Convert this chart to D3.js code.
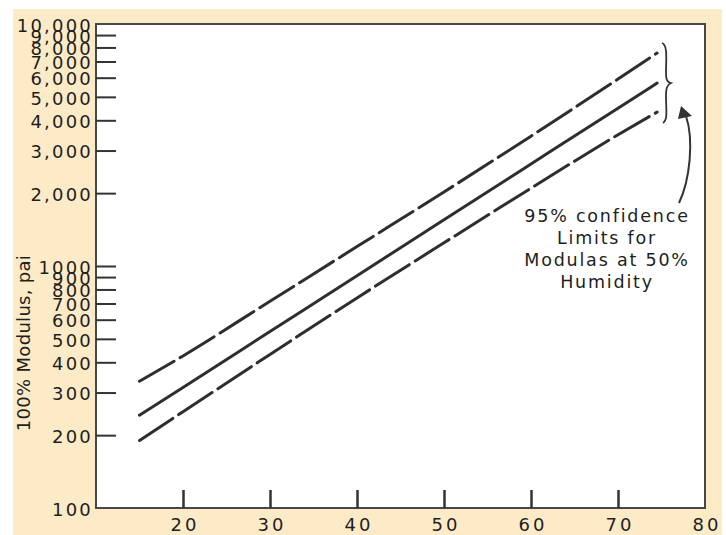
<!DOCTYPE html>
<html>
<head>
<meta charset="utf-8">
<script src="https://cdn.jsdelivr.net/npm/d3@7"></script>
<style>
  body { margin: 0; background: #fff; }
  svg { display: block; }
  text { font-family: "DejaVu Sans", Verdana, sans-serif; fill: #1e1e1e; }
</style>
</head>
<body>
<svg id="chart" width="726" height="535"></svg>
<script>
// values
const xValues = [15, 20, 30, 40, 50, 60, 70, 74.5];
const modulusFit = [242, 315, 536, 912, 1552, 2640, 4490, 5700];
const upperLimit = [334, 425, 715, 1203, 2023, 3440, 5920, 7590];
const lowerLimit = [190, 250, 431, 738, 1247, 2097, 3485, 4325];

const xTicks = [20, 30, 40, 50, 60, 70, 80];
const yTicks = [100, 200, 300, 400, 500, 600, 700, 800, 900, 1000,
  2000, 3000, 4000, 5000, 6000, 7000, 8000, 9000, 10000];
const yTitle = "100% Modulus, pai";
const noteLines = ["95% confidence", "Limits for", "Modulas at 50%", "Humidity"];

const svg = d3.select("#chart");
const ink = "#333";

const x = d3.scaleLinear().domain([10, 80]).range([96, 705]);
const y = d3.scaleLog().domain([100, 10000]).range([508, 24]);

// cream page + white plot
svg.append("rect")
  .attr("x", 13).attr("y", 9).attr("width", 709).attr("height", 526)
  .attr("fill", "#fdebc8");
svg.append("rect")
  .attr("x", x(10)).attr("y", y(10000))
  .attr("width", x(80) - x(10)).attr("height", y(100) - y(10000))
  .attr("fill", "#fff").attr("stroke", "#474747").attr("stroke-width", 2);

const fmt = (v) => (v <= 1000 ? String(v) : d3.format(",")(v));

const yAxis = svg.append("g")
  .attr("transform", `translate(${x(10)},0)`)
  .call(d3.axisLeft(y).tickValues(yTicks).tickFormat(fmt)
    .tickSizeInner(-20).tickSizeOuter(0).tickPadding(3));
yAxis.select(".domain").remove();
yAxis.selectAll(".tick line")
  .attr("stroke", ink).attr("stroke-width", 2)
  .filter((d) => d === 100 || d === 10000).remove();
yAxis.selectAll(".tick text")
  .style("font-size", "18px")
  .style("letter-spacing", "2.2px")
  .attr("dy", "0.4em");

const xAxis = svg.append("g")
  .attr("transform", `translate(0,${y(100)})`)
  .call(d3.axisBottom(x).tickValues(xTicks)
    .tickSizeInner(-18).tickSizeOuter(0).tickPadding(10));
xAxis.select(".domain").remove();
xAxis.selectAll(".tick line")
  .attr("stroke", ink).attr("stroke-width", 2.5)
  .filter((d) => d === 80).remove();
xAxis.selectAll(".tick text")
  .style("font-size", "18px")
  .style("letter-spacing", "3px")
  .attr("dx", "1.5px");

svg.append("text")
  .attr("transform", `translate(30,343) rotate(-90)`)
  .attr("text-anchor", "middle")
  .style("font-size", "18px")
  .style("letter-spacing", "0.3px")
  .text(yTitle);

// fit and confidence limits
const line = d3.line()
  .x((d) => x(d[0]))
  .y((d) => y(d[1]))
  .curve(d3.curveMonotoneX);

const series = [
  { values: upperLimit, dash: "40,7" },
  { values: modulusFit, dash: null },
  { values: lowerLimit, dash: "40,7" },
];

svg.append("g")
  .selectAll("path")
  .data(series)
  .enter()
  .append("path")
  .attr("d", (s) => line(xValues.map((v, i) => [v, s.values[i]])))
  .attr("fill", "none")
  .attr("stroke", "#2e2e2e")
  .attr("stroke-width", 3)
  .attr("stroke-linecap", "round")
  .attr("stroke-dasharray", (s) => s.dash);

// brace and arrow
svg.append("path")
  .attr("d", "M662,43 C668,45 666,60 666,72 C666,80 667,82 671,83 C667,85 666,88 666,96 C666,110 668,120 663,123")
  .attr("fill", "none").attr("stroke", ink).attr("stroke-width", 1.8);

svg.append("path")
  .attr("d", "M679,203 C690,180 694,140 686,116")
  .attr("fill", "none").attr("stroke", ink).attr("stroke-width", 2);
svg.append("path")
  .attr("d", "M681,106 L678,119 L692,116 Z")
  .attr("fill", ink);

svg.append("g")
  .selectAll("text")
  .data(noteLines)
  .enter()
  .append("text")
  .attr("x", 607)
  .attr("y", (d, i) => 222 + i * 22)
  .attr("text-anchor", "middle")
  .style("font-size", "17.5px")
  .style("letter-spacing", "1.8px")
  .text((d) => d);
</script>
</body>
</html>
